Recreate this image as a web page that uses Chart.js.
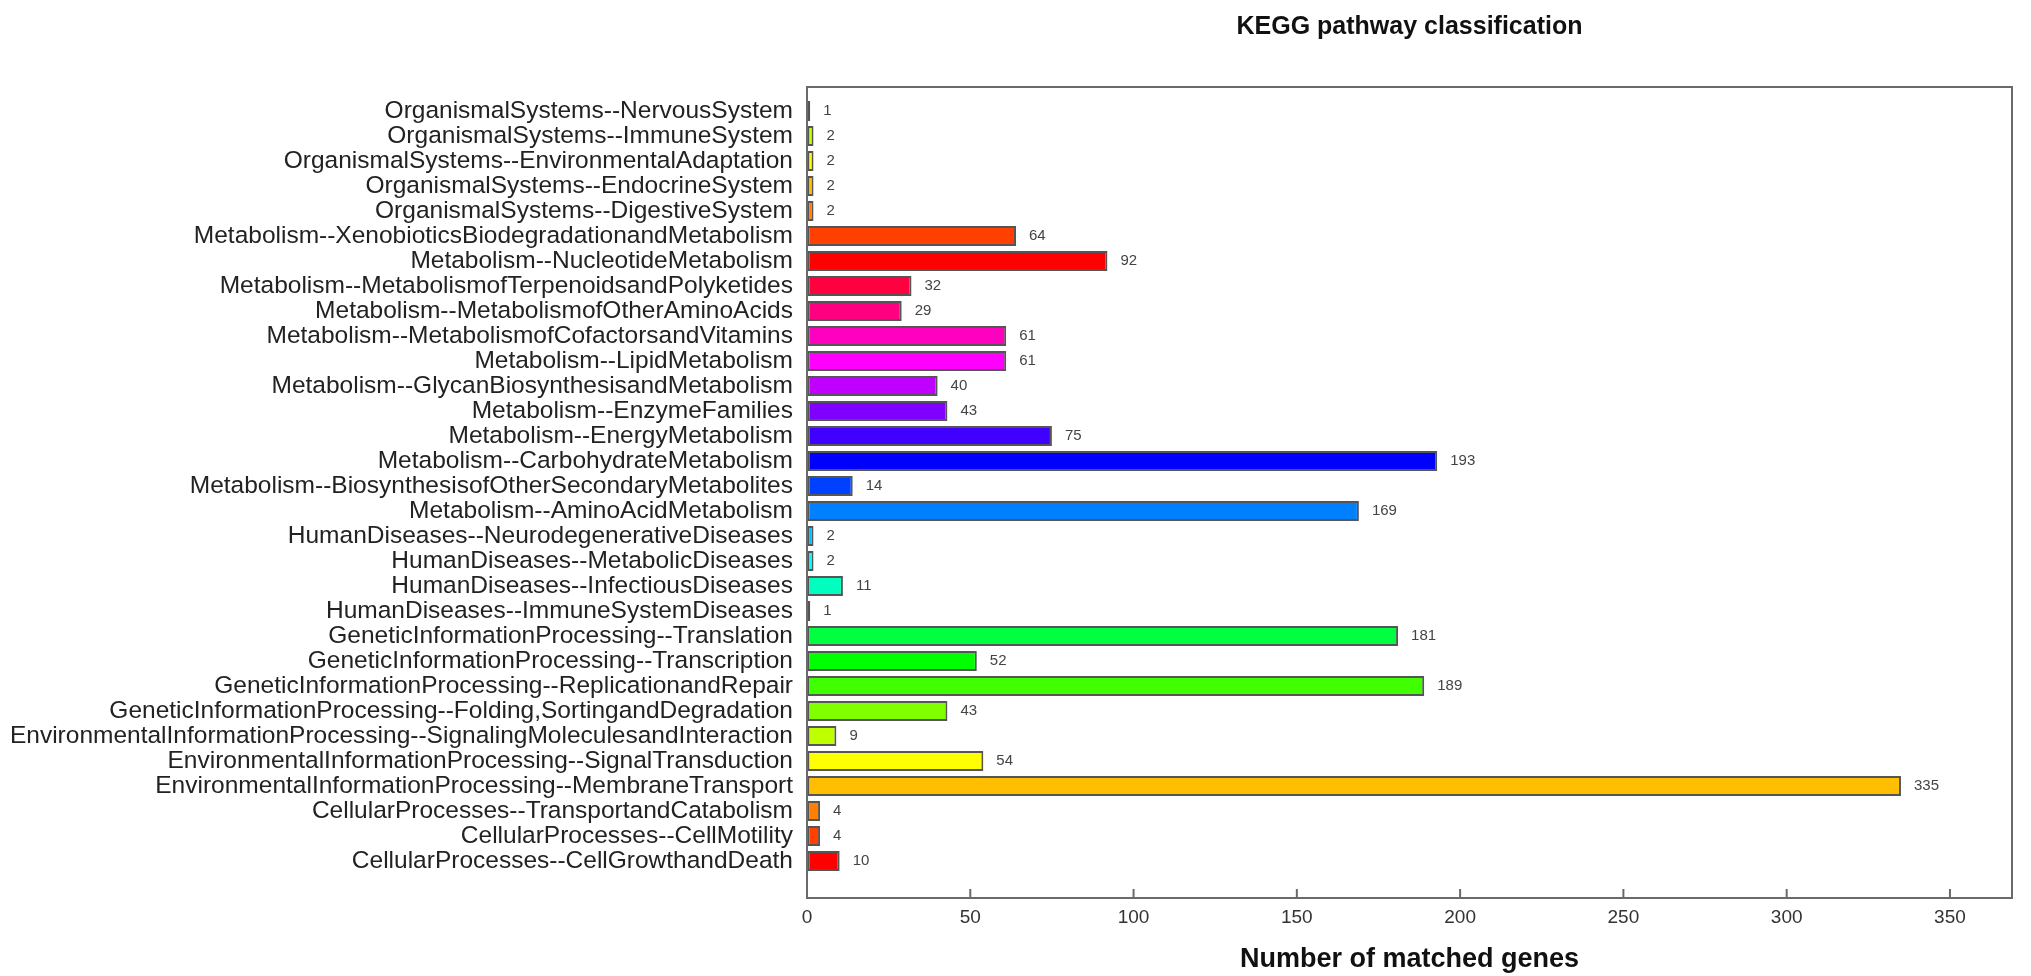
<!DOCTYPE html>
<html>
<head>
<meta charset="utf-8">
<title>KEGG pathway classification</title>
<script src="https://cdn.jsdelivr.net/npm/chart.js@4/dist/chart.umd.min.js"></script>
<style>
  html, body { margin: 0; padding: 0; background: #fff; }
  #chart { display: block; }
</style>
</head>
<body>
<canvas id="chart" width="2031" height="976"></canvas>
<script>
// ── data (top row first) ────────────────────────────────
const categories = [
    "OrganismalSystems--NervousSystem",
    "OrganismalSystems--ImmuneSystem",
    "OrganismalSystems--EnvironmentalAdaptation",
    "OrganismalSystems--EndocrineSystem",
    "OrganismalSystems--DigestiveSystem",
    "Metabolism--XenobioticsBiodegradationandMetabolism",
    "Metabolism--NucleotideMetabolism",
    "Metabolism--MetabolismofTerpenoidsandPolyketides",
    "Metabolism--MetabolismofOtherAminoAcids",
    "Metabolism--MetabolismofCofactorsandVitamins",
    "Metabolism--LipidMetabolism",
    "Metabolism--GlycanBiosynthesisandMetabolism",
    "Metabolism--EnzymeFamilies",
    "Metabolism--EnergyMetabolism",
    "Metabolism--CarbohydrateMetabolism",
    "Metabolism--BiosynthesisofOtherSecondaryMetabolites",
    "Metabolism--AminoAcidMetabolism",
    "HumanDiseases--NeurodegenerativeDiseases",
    "HumanDiseases--MetabolicDiseases",
    "HumanDiseases--InfectiousDiseases",
    "HumanDiseases--ImmuneSystemDiseases",
    "GeneticInformationProcessing--Translation",
    "GeneticInformationProcessing--Transcription",
    "GeneticInformationProcessing--ReplicationandRepair",
    "GeneticInformationProcessing--Folding,SortingandDegradation",
    "EnvironmentalInformationProcessing--SignalingMoleculesandInteraction",
    "EnvironmentalInformationProcessing--SignalTransduction",
    "EnvironmentalInformationProcessing--MembraneTransport",
    "CellularProcesses--TransportandCatabolism",
    "CellularProcesses--CellMotility",
    "CellularProcesses--CellGrowthandDeath"
];
const geneCounts = [1, 2, 2, 2, 2, 64, 92, 32, 29, 61, 61, 40, 43, 75, 193, 14, 169,
                    2, 2, 11, 1, 181, 52, 189, 43, 9, 54, 335, 4, 4, 10];
const xTicks = [0, 50, 100, 150, 200, 250, 300, 350];
const chartTitle = "KEGG pathway classification";
const xTitle = "Number of matched genes";

// bar fills (rainbow hues)
const barColors = [
    "#80FF00", "#BFFF00", "#FFFF00", "#FFBF00", "#FF8000", "#FF4000", "#FF0000",
    "#FF0040", "#FF0080", "#FF00BF", "#FF00FF", "#BF00FF", "#8000FF", "#4000FF",
    "#0000FF", "#0040FF", "#0080FF", "#00BFFF", "#00FFFF", "#00FFBF", "#00FF80",
    "#00FF40", "#00FF00", "#40FF00", "#80FF00", "#BFFF00", "#FFFF00", "#FFBF00",
    "#FF8000", "#FF4000", "#FF0000"
];

const FONT = "'Liberation Sans', Arial, Helvetica, sans-serif";

// ── plugins ─────────────────────────────────────────────
const framePlugin = {
    id: "frame",
    afterDraw(chart) {
        const { ctx, chartArea: a, scales } = chart;
        ctx.save();
        ctx.strokeStyle = "#6a6a6a";
        ctx.lineWidth = 2;
        ctx.strokeRect(a.left, a.top, a.right - a.left, a.bottom - a.top);
        // inward tick marks on x axis
        xTicks.forEach(v => {
            const px = scales.x.getPixelForValue(v);
            ctx.beginPath();
            ctx.moveTo(px, a.bottom);
            ctx.lineTo(px, a.bottom - 9);
            ctx.stroke();
        });
        // title centred over the plot box
        ctx.fillStyle = "#111";
        ctx.font = `bold 25px ${FONT}`;
        ctx.textAlign = "center";
        ctx.textBaseline = "middle";
        ctx.fillText(chartTitle, (a.left + a.right) / 2, 27);
        ctx.restore();
    }
};

const valueLabels = {
    id: "valueLabels",
    afterDatasetsDraw(chart) {
        const { ctx } = chart;
        const meta = chart.getDatasetMeta(0);
        ctx.save();
        ctx.fillStyle = "#444";
        ctx.font = `15px ${FONT}`;
        ctx.textAlign = "left";
        ctx.textBaseline = "middle";
        meta.data.forEach((bar, i) => {
            ctx.fillText(String(geneCounts[i]), bar.x + 13, bar.y);
        });
        ctx.restore();
    }
};

// ── chart ───────────────────────────────────────────────
new Chart(document.getElementById("chart"), {
    type: "bar",
    data: {
        datasets: [{
            data: geneCounts.map((v, i) => ({ x: v, y: i })),
            backgroundColor: barColors,
            borderColor: "#555",
            borderWidth: 2,
            borderSkipped: false,
            barPercentage: 0.8,
            categoryPercentage: 1
        }]
    },
    options: {
        indexAxis: "y",
        responsive: false,
        animation: false,
        devicePixelRatio: 1,
        layout: { padding: { top: 87, right: 19, left: 0, bottom: 0 } },
        plugins: {
            legend: { display: false },
            tooltip: { enabled: false }
        },
        scales: {
            x: {
                type: "linear",
                min: 0,
                max: 369,
                afterBuildTicks: s => { s.ticks = xTicks.map(v => ({ value: v })); },
                afterFit: s => { s.height = 78; },
                grid: { drawOnChartArea: false, drawTicks: false },
                border: { display: false },
                ticks: { color: "#333", font: { family: FONT, size: 19 }, padding: 8 },
                title: {
                    display: true,
                    text: xTitle,
                    color: "#111",
                    font: { family: FONT, size: 27, weight: "bold" },
                    padding: { top: 0, bottom: 0 }
                }
            },
            y: {
                type: "linear",
                reverse: true,
                offset: false,
                min: -0.96,
                max: 31.48,
                afterBuildTicks: s => { s.ticks = categories.map((_, i) => ({ value: i })); },
                afterFit: s => { s.width = 807; },
                grid: { drawOnChartArea: false, drawTicks: false, offset: false },
                border: { display: false },
                ticks: {
                    autoSkip: false,
                    color: "#222",
                    font: { family: FONT, size: 24.5 },
                    padding: 14,
                    callback: v => categories[v]
                }
            }
        }
    },
    plugins: [framePlugin, valueLabels]
});
</script>
</body>
</html>
